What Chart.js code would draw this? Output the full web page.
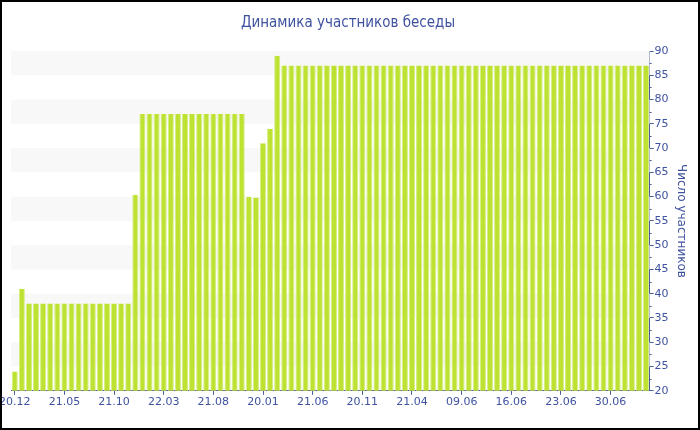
<!DOCTYPE html>
<html>
<head>
<meta charset="utf-8">
<script src="https://cdn.jsdelivr.net/npm/chart.js@4.4.1/dist/chart.umd.min.js"></script>
<style>
  html, body { margin: 0; padding: 0; background: #fff; }
  #wrap { position: absolute; left: -2px; top: 0; width: 704px; height: 430px; }
  #frame { position: absolute; left: 0; top: 0; width: 700px; height: 430px; box-sizing: border-box;
           border: 2px solid #000; pointer-events: none; z-index: 2; }
</style>
</head>
<body>
<div id="wrap"><canvas id="chart"></canvas></div>
<div id="frame"></div>
<script>
// values, one bar per day
const members = [
  24, 41,
  38, 38, 38, 38, 38, 38, 38, 38, 38, 38, 38, 38, 38, 38, 38,
  60.4,
  77, 77, 77, 77, 77, 77, 77, 77, 77, 77, 77, 77, 77, 77, 77,
  60, 59.8, 71, 74, 89,
  87, 87, 87, 87, 87, 87, 87, 87, 87, 87, 87, 87, 87,
  87, 87, 87, 87, 87, 87, 87, 87, 87, 87, 87, 87, 87,
  87, 87, 87, 87, 87, 87, 87, 87, 87, 87, 87, 87, 87,
  87, 87, 87, 87, 87, 87, 87, 87, 87, 87, 87, 87, 87
];
// axis labels shown on every 7th bar
const tickLabels = ['20.12', '21.05', '21.10', '22.03', '21.08', '20.01', '21.06',
                    '20.11', '21.04', '09.06', '16.06', '23.06', '30.06'];
const labelStep = 7;
const categories = members.map((v, i) => i);

const textColor = '#3f52a0';
const axisColor = '#4a5b9c';
const barColor = '#bde232';

// grey bands every other 5 units, plus small minor ticks on the right axis
const bandsPlugin = {
  id: 'bands',
  beforeDatasetsDraw(chart) {
    const { ctx, chartArea } = chart;
    const y = chart.scales.y;
    ctx.save();
    ctx.fillStyle = '#f8f8f8';
    for (let v = 25; v < 90; v += 10) {
      const top = y.getPixelForValue(v + 5);
      const bottom = y.getPixelForValue(v);
      ctx.fillRect(chartArea.left, top, chartArea.right - chartArea.left, bottom - top);
    }
    ctx.restore();
  },
  afterDraw(chart) {
    const { ctx } = chart;
    const y = chart.scales.y;
    ctx.save();
    ctx.strokeStyle = axisColor;
    ctx.lineWidth = 1;
    for (let v = 22.5; v < 90; v += 5) {
      const p = Math.round(y.getPixelForValue(v)) + 0.5;
      ctx.beginPath();
      ctx.moveTo(y.left, p);
      ctx.lineTo(y.left + 2, p);
      ctx.stroke();
    }
    ctx.restore();
  }
};

const config = {
  type: 'bar',
  data: {
    labels: categories,
    datasets: [{
      data: members,
      backgroundColor: barColor,
      borderColor: '#d6ee85',
      borderWidth: { left: 1, right: 1, top: 0, bottom: 0 },
      borderSkipped: false,
      barPercentage: 0.86,
      categoryPercentage: 1
    }]
  },
  options: {
    responsive: false,
    animation: false,
    devicePixelRatio: 1,
    layout: { padding: { left: 0, right: 4, top: 0, bottom: 20 } },
    plugins: {
      legend: { display: false },
      tooltip: { enabled: false },
      title: {
        display: true,
        text: 'Динамика участников беседы',
        color: textColor,
        font: { family: "'DejaVu Sans Condensed', 'Liberation Sans Narrow', sans-serif", size: 15, weight: 'normal' },
        padding: { top: 14, bottom: 19 }
      }
    },
    scales: {
      x: {
        offset: true,
        border: { color: axisColor, width: 1 },
        grid: {
          offset: false,
          drawOnChartArea: false,
          tickLength: 4,
          tickColor: ctx => (ctx.index % labelStep === 0 ? axisColor : 'rgba(0,0,0,0)')
        },
        ticks: {
          autoSkip: false,
          maxRotation: 0,
          padding: 1,
          color: textColor,
          font: { family: 'DejaVu Sans', size: 11 },
          callback: (val, i) => (i % labelStep === 0 ? tickLabels[i / labelStep] : '')
        }
      },
      y: {
        position: 'right',
        min: 20,
        max: 90,
        border: { color: axisColor, width: 1 },
        grid: { drawOnChartArea: false, tickLength: 4, tickColor: axisColor },
        ticks: {
          stepSize: 5,
          padding: 1,
          color: textColor,
          font: { family: 'DejaVu Sans', size: 11 }
        },
        title: {
          display: true,
          text: 'Число участников',
          color: textColor,
          font: { family: 'DejaVu Sans', size: 12 },
          padding: { top: 10, bottom: 4 }
        }
      }
    }
  },
  plugins: [bandsPlugin]
};

const canvas = document.getElementById('chart');
canvas.width = 704;
canvas.height = 430;
const chart = new Chart(canvas, config);
</script>
</body>
</html>
